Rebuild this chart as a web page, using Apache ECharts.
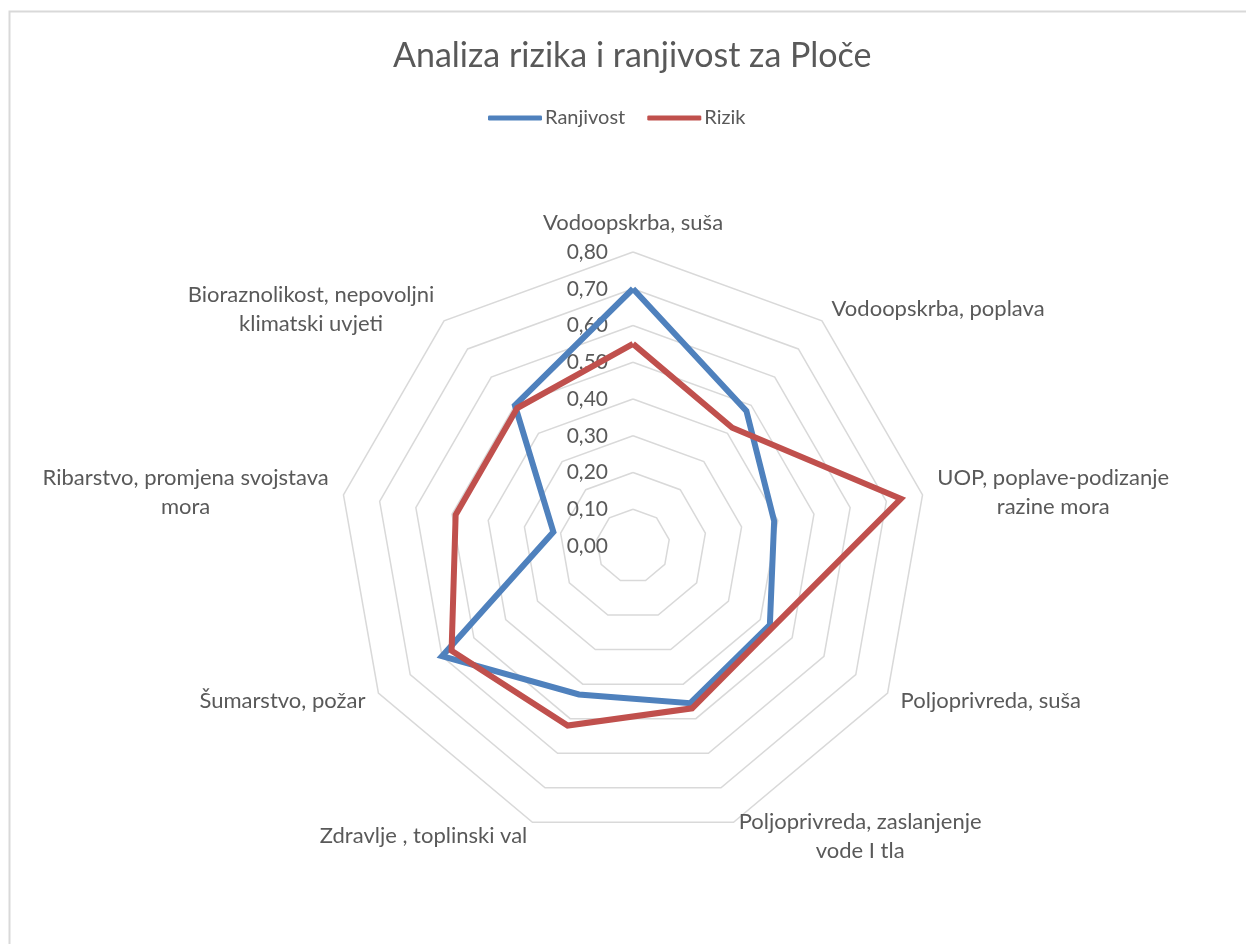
<!DOCTYPE html>
<html>
<head>
<meta charset="utf-8">
<title>Analiza rizika i ranjivost za Ploče</title>
<script src="https://cdn.jsdelivr.net/npm/echarts@6/dist/echarts.min.js"></script>
<style>
  html, body { margin: 0; padding: 0; background: #ffffff; }
  #chart { width: 1246px; height: 944px; }
</style>
</head>
<body>
<div id="chart"></div>
<script>
// Sectors, clockwise from the top
const categories = [
  'Vodoopskrba, suša',
  'Vodoopskrba, poplava',
  'UOP, poplave-podizanje\nrazine mora',
  'Poljoprivreda, suša',
  'Poljoprivreda, zaslanjenje\nvode I tla',
  'Zdravlje , toplinski val',
  'Šumarstvo, požar',
  'Ribarstvo, promjena svojstava\nmora',
  'Bioraznolikost, nepovoljni\nklimatski uvjeti'
];

const seriesNames = ['Ranjivost', 'Rizik'];
const ranjivost = [0.70, 0.48, 0.39, 0.43, 0.455, 0.43, 0.60, 0.22, 0.50];
const rizik     = [0.55, 0.42, 0.74, 0.44, 0.47, 0.52, 0.57, 0.49, 0.49];

const axisMin = 0;
const axisMax = 0.8;
const axisSplits = 8;

const FONT = 'Lato, "Open Sans", sans-serif';
const TEXT = '#595959';

// ECharts lays radar axes out counter-clockwise; keep the first sector on top
// and walk the rest backwards so the sectors run clockwise.
const order = categories.map((_, i) => (i === 0 ? 0 : categories.length - i));
const reorder = arr => order.map(i => arr[i]);

const chart = echarts.init(document.getElementById('chart'), null, { renderer: 'canvas' });

// Multi-line sector names are centred line by line
function centred(name) {
  return name.split('\n').map(l => '{c|' + l + '}').join('\n');
}

const indicator = reorder(categories).map((name, i) => {
  const ind = { name: name, min: axisMin, max: axisMax };
  // only the top axis carries the value scale
  if (i === 0) {
    ind.axisLabel = {
      show: true,
      margin: 25,
      fontFamily: FONT,
      fontSize: 21,
      color: TEXT,
      formatter: v => v.toFixed(2).replace('.', ',')
    };
  }
  return ind;
});

chart.setOption({
  backgroundColor: '#ffffff',
  animation: false,
  title: {
    text: 'Analiza rizika i ranjivost za Ploče',
    left: 393,
    top: 39,
    padding: 0,
    textStyle: { fontFamily: FONT, fontSize: 34, fontWeight: 'normal', color: TEXT }
  },
  legend: {
    data: seriesNames,
    top: 103,
    left: 483,
    padding: 5,
    icon: 'roundRect',
    itemWidth: 54,
    itemHeight: 5,
    itemGap: 22,
    textStyle: { fontFamily: FONT, fontSize: 20, color: TEXT, padding: [0, 0, 0, -2] }
  },
  graphic: [{
    type: 'rect',
    shape: { x: 9.5, y: 11.5, width: 1300, height: 1000 },
    style: { fill: 'none', stroke: '#d9d9d9', lineWidth: 2 },
    silent: true,
    z: -1
  }],
  radar: {
    center: [633, 546],
    radius: 294,
    startAngle: 90,
    shape: 'polygon',
    splitNumber: axisSplits,
    indicator: indicator,
    nameGap: 15,
    axisName: {
      fontFamily: FONT,
      fontSize: 22,
      color: TEXT,
      formatter: centred,
      rich: {
        c: { fontFamily: FONT, fontSize: 22, color: TEXT, align: 'center', lineHeight: 29 }
      }
    },
    axisLine: { show: false },
    axisTick: { show: false },
    axisLabel: { show: false },
    splitArea: { show: false },
    splitLine: { lineStyle: { color: '#d9d9d9', width: 1.5 } }
  },
  series: [{
    type: 'radar',
    symbol: 'none',
    z: 2,
    data: [
      {
        name: seriesNames[0],
        value: reorder(ranjivost),
        itemStyle: { color: '#4f81bd' },
        lineStyle: { color: '#4f81bd', width: 6, join: 'miter' }
      },
      {
        name: seriesNames[1],
        value: reorder(rizik),
        itemStyle: { color: '#c0504d' },
        lineStyle: { color: '#c0504d', width: 6, join: 'miter' }
      }
    ]
  }]
});
</script>
</body>
</html>
